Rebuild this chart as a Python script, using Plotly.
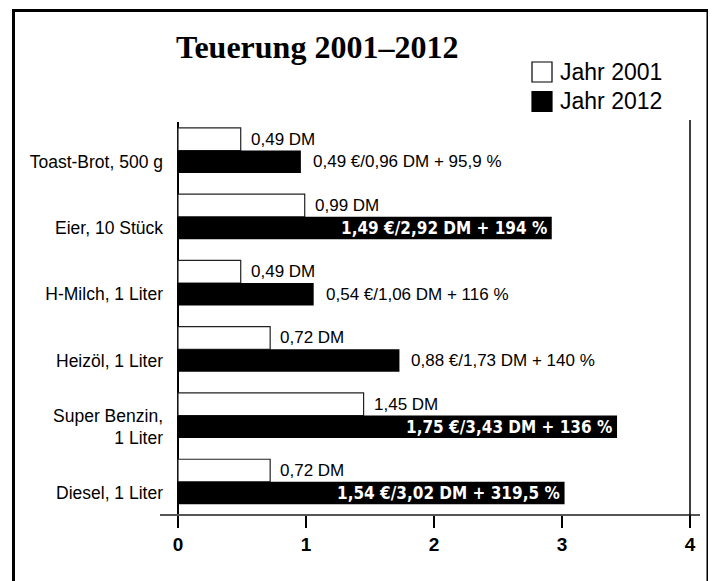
import plotly.graph_objects as go

# ---- data ----
categories = ["Toast-Brot, 500 g", "Eier, 10 Stück", "H-Milch, 1 Liter",
              "Heizöl, 1 Liter", "Super Benzin,<br>1 Liter", "Diesel, 1 Liter"]
dm_2001 = [0.49, 0.99, 0.49, 0.72, 1.45, 0.72]
dm_2012 = [0.96, 2.92, 1.06, 1.73, 3.43, 3.02]
eur_2012 = [0.49, 1.49, 0.54, 0.88, 1.75, 1.54]
pct_change = ["95,9", "194", "116", "140", "136", "319,5"]
x_ticks = [0, 1, 2, 3, 4]
series_names = ["Jahr 2001", "Jahr 2012"]
title_text = "Teuerung 2001–2012"

# ---- layout geometry (screen pixels; page body has an 8px margin) ----
OFF = 8
W, H = 716 - OFF, 581 - OFF
PLOT_L, PLOT_R, PLOT_T, PLOT_B = 160, 700, 122, 514   # screen coords
L = PLOT_L - OFF
T = PLOT_T - OFF
R = W - (PLOT_R - OFF)
B = H - (PLOT_B - OFF)
PW, PH = PLOT_R - PLOT_L, PLOT_B - PLOT_T


def px(x, y):
    """screen pixel -> paper coords"""
    return (x - PLOT_L) / PW, (PLOT_B - y) / PH


def fmt(v):
    return f"{v:.2f}".replace(".", ",")


SANS = "Liberation Sans, Arial, sans-serif"
BAR_W = 0.34
UNIT = 128          # px per DM
ZERO_X = 178        # screen x of value 0

fig = go.Figure()
fig.add_trace(go.Bar(
    y=categories, x=dm_2001, orientation="h", name=series_names[0],
    offset=-1.5 * BAR_W, width=BAR_W,
    marker=dict(color="white", line=dict(color="#222", width=1.2)),
    showlegend=False, hoverinfo="skip"))
fig.add_trace(go.Bar(
    y=categories, x=dm_2012, orientation="h", name=series_names[1],
    offset=-BAR_W / 2, width=BAR_W,
    marker=dict(color="black", line=dict(color="black", width=0)),
    showlegend=False, hoverinfo="skip"))

annotations = []
for i in range(len(categories)):
    annotations.append(dict(
        x=dm_2001[i], y=i - BAR_W, xref="x", yref="y", showarrow=False,
        text=f"{fmt(dm_2001[i])} DM", xanchor="left", yanchor="middle",
        xshift=8, font=dict(family=SANS, size=17, color="black")))
    txt = f"{fmt(eur_2012[i])} €/{fmt(dm_2012[i])} DM + {pct_change[i]} %"
    if dm_2012[i] > 2.5:
        annotations.append(dict(
            x=dm_2012[i], y=i, xref="x", yref="y", showarrow=False,
            text=txt, xanchor="right", yanchor="middle", xshift=-3,
            font=dict(family="DejaVu Sans Condensed, DejaVu Sans, sans-serif",
                      size=17, color="white", weight="bold")))
    else:
        annotations.append(dict(
            x=dm_2012[i], y=i, xref="x", yref="y", showarrow=False,
            text=txt, xanchor="left", yanchor="middle", xshift=10,
            font=dict(family=SANS, size=17, color="black")))

# title
tx, ty = px(317, 47)
annotations.append(dict(x=tx, y=ty, xref="paper", yref="paper", showarrow=False,
                        text=f"<b>{title_text}</b>", xanchor="center", yanchor="middle",
                        font=dict(family="Liberation Serif, Times New Roman, serif",
                                  size=32, color="black")))

shapes = []
# legend
for k, (yc, fill) in enumerate([(72, "white"), (101.5, "black")]):
    x0, y0 = px(532, yc - 10)
    x1, y1 = px(552, yc + 10)
    shapes.append(dict(type="rect", xref="paper", yref="paper", x0=x0, x1=x1,
                       y0=y0, y1=y1, fillcolor=fill, line=dict(color="black", width=1.2)))
    lx, ly = px(558, yc)
    annotations.append(dict(x=lx, y=ly, xref="paper", yref="paper", showarrow=False,
                            text=series_names[k], xanchor="left", yanchor="middle",
                            font=dict(family=SANS, size=23, color="black")))

# outer frame
fx0, fy0 = px(13.5, 600)
fx1, fy1 = px(708, 10.5)
shapes.append(dict(type="rect", xref="paper", yref="paper", x0=fx0, x1=fx1,
                   y0=fy0, y1=fy1, line=dict(color="black", width=3)))
# right vertical line at x = 4
_, vy0 = px(0, 526)
_, vy1 = px(0, 120)
shapes.append(dict(type="line", xref="x", yref="paper", x0=x_ticks[-1], x1=x_ticks[-1],
                   y0=vy0, y1=vy1, line=dict(color="black", width=1.5)))

x_lo = (PLOT_L - ZERO_X) / UNIT
x_hi = x_lo + PW / UNIT

fig.update_layout(
    width=W, height=H, autosize=False,
    margin=dict(l=L, r=R, t=T, b=B),
    paper_bgcolor="white", plot_bgcolor="white",
    barmode="overlay",
    annotations=annotations, shapes=shapes,
    xaxis=dict(range=[x_lo, x_hi], tickvals=x_ticks, ticktext=[str(t) for t in x_ticks],
               ticks="outside", ticklen=12, tickwidth=1.5, tickcolor="black",
               showline=True, linecolor="#555", linewidth=2,
               zeroline=True, zerolinecolor="black", zerolinewidth=1.5,
               showgrid=False, ticklabelstandoff=0,
               tickfont=dict(family=SANS, size=19, color="black", weight="bold")),
    yaxis=dict(range=[5 + 21 / 66.3, -0.6], showgrid=False, zeroline=False,
               showline=False, ticks="", ticklabelstandoff=-4,
               tickfont=dict(family=SANS, size=17.5, color="black")),
)

fig.write_html("out.html")
